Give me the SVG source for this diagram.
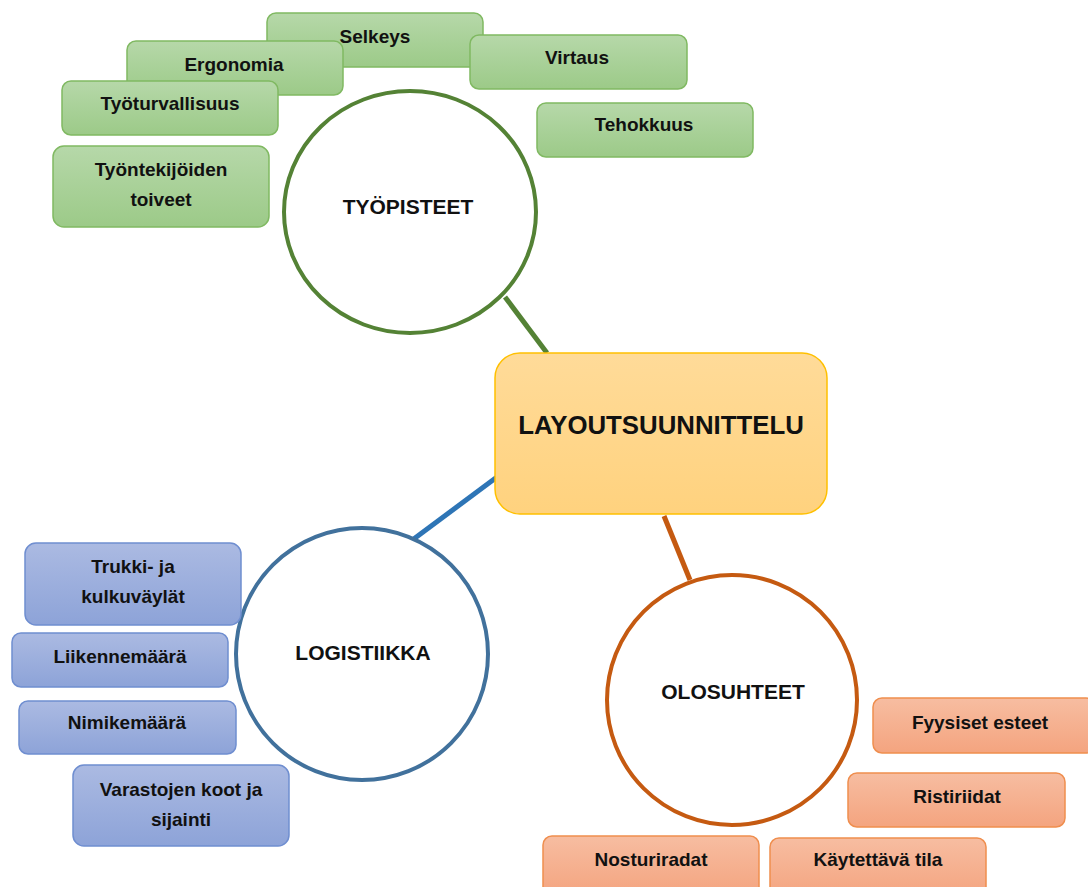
<svg xmlns="http://www.w3.org/2000/svg" width="1088" height="887" viewBox="0 0 1088 887">
<defs>
<linearGradient id="gG" x1="0" y1="0" x2="0" y2="1"><stop offset="0" stop-color="#B6D8A9"/><stop offset="1" stop-color="#9CCA88"/></linearGradient>
<linearGradient id="gB" x1="0" y1="0" x2="0" y2="1"><stop offset="0" stop-color="#ABBAE2"/><stop offset="1" stop-color="#8DA3D8"/></linearGradient>
<linearGradient id="gO" x1="0" y1="0" x2="0" y2="1"><stop offset="0" stop-color="#F7BDA1"/><stop offset="1" stop-color="#F4A47F"/></linearGradient>
<linearGradient id="gY" x1="0" y1="0" x2="0" y2="1"><stop offset="0" stop-color="#FFDB99"/><stop offset="1" stop-color="#FFD27E"/></linearGradient>
<style>
text{font-family:"Liberation Sans",Arial,sans-serif;font-weight:bold;fill:#111;text-anchor:middle}
.t{font-size:19px}
.c{font-size:21px}
.m{font-size:25.8px}
.g{fill:url(#gG);stroke:#80B962;stroke-width:1.5}
.b{fill:url(#gB);stroke:#6F8ED0;stroke-width:1.5}
.o{fill:url(#gO);stroke:#EF8E4E;stroke-width:1.5}
.circ{fill:#fff;stroke-width:4}
.ln{stroke-width:5;fill:none}
</style>
</defs>
<rect width="1088" height="887" fill="#fff"/>
<g id="connectors">
<line class="ln" x1="505" y1="297" x2="547" y2="353" stroke="#548235"/>
<line class="ln" x1="497" y1="477" x2="407" y2="544" stroke="#2E75B6"/>
<line class="ln" x1="664" y1="516" x2="690" y2="580" stroke="#C55A11"/>
</g>
<g id="n-selkeys"><rect class="g" x="267" y="13" width="216" height="54" rx="9"/><text class="t" x="375" y="43">Selkeys</text></g>
<g id="n-ergonomia"><rect class="g" x="127" y="41" width="216" height="54" rx="9"/><text class="t" x="234" y="71">Ergonomia</text></g>
<g id="n-tyoturvallisuus"><rect class="g" x="62" y="81" width="216" height="54" rx="9"/><text class="t" x="170" y="110">Työturvallisuus</text></g>
<g id="n-toiveet"><rect class="g" x="53" y="146" width="216" height="81" rx="11"/><text class="t" x="161" y="176">Työntekijöiden</text><text class="t" x="161" y="206">toiveet</text></g>
<g id="n-virtaus"><rect class="g" x="470" y="35" width="217" height="54" rx="9"/><text class="t" x="577" y="64">Virtaus</text></g>
<g id="n-tehokkuus"><rect class="g" x="537" y="103" width="216" height="54" rx="9"/><text class="t" x="644" y="131">Tehokkuus</text></g>
<g id="n-tyopisteet"><ellipse class="circ" cx="410" cy="212" rx="126" ry="121" stroke="#548235"/><text class="c" x="408" y="214">TYÖPISTEET</text></g>
<g id="n-layout"><rect x="495" y="353" width="332" height="161" rx="25" fill="url(#gY)" stroke="#FFC000" stroke-width="1.5"/><text class="m" x="661" y="434">LAYOUTSUUNNITTELU</text></g>
<g id="n-logistiikka"><circle class="circ" cx="362" cy="654" r="126" stroke="#41719C"/><text class="c" x="363" y="660">LOGISTIIKKA</text></g>
<g id="n-trukki"><rect class="b" x="25" y="543" width="216" height="82" rx="11"/><text class="t" x="133" y="573">Trukki- ja</text><text class="t" x="133" y="603">kulkuväylät</text></g>
<g id="n-liikenne"><rect class="b" x="12" y="633" width="216" height="54" rx="9"/><text class="t" x="120" y="663">Liikennemäärä</text></g>
<g id="n-nimike"><rect class="b" x="19" y="701" width="217" height="53" rx="9"/><text class="t" x="127" y="729">Nimikemäärä</text></g>
<g id="n-varastot"><rect class="b" x="73" y="765" width="216" height="81" rx="11"/><text class="t" x="181" y="796">Varastojen koot ja</text><text class="t" x="181" y="826">sijainti</text></g>
<g id="n-olosuhteet"><circle class="circ" cx="732" cy="700" r="125" stroke="#C55A11"/><text class="c" x="733" y="699">OLOSUHTEET</text></g>
<g id="n-fyysiset"><rect class="o" x="873" y="698" width="222" height="55" rx="9"/><text class="t" x="980" y="729">Fyysiset esteet</text></g>
<g id="n-ristiriidat"><rect class="o" x="848" y="773" width="217" height="54" rx="9"/><text class="t" x="957" y="803">Ristiriidat</text></g>
<g id="n-nosturiradat"><rect class="o" x="543" y="836" width="216" height="60" rx="9"/><text class="t" x="651" y="866">Nosturiradat</text></g>
<g id="n-kaytettava"><rect class="o" x="770" y="838" width="216" height="60" rx="9"/><text class="t" x="878" y="866">Käytettävä tila</text></g>
</svg>
